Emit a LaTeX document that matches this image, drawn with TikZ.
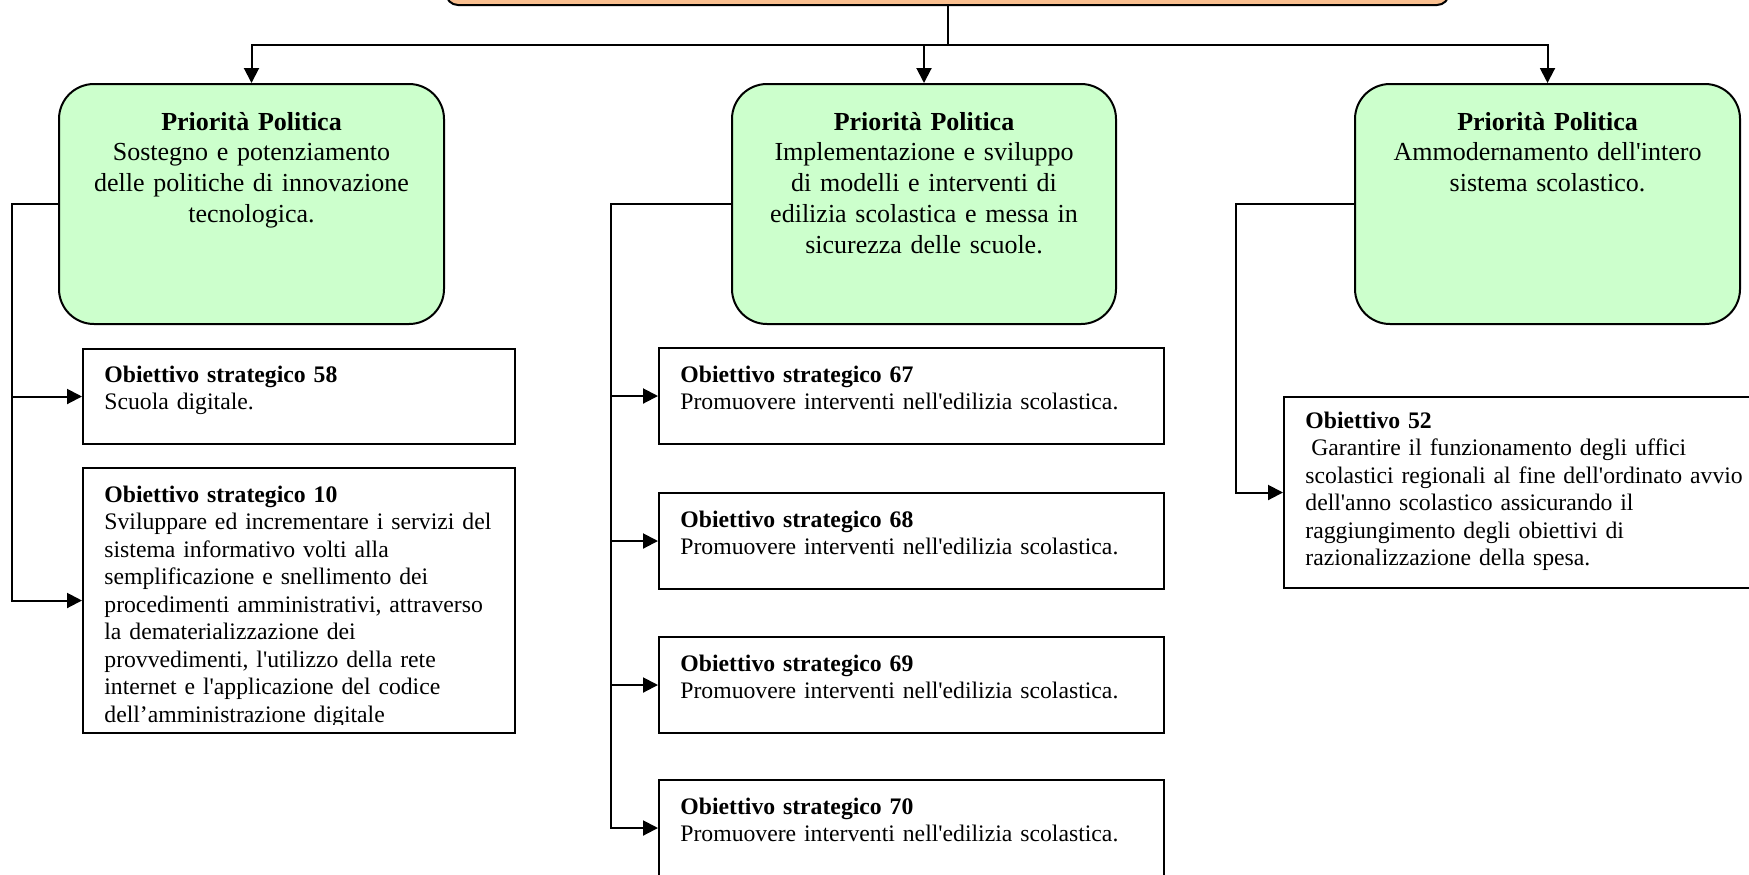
\documentclass[tikz,border=0pt]{standalone}
\usepackage{fontspec}
\setmainfont{Liberation Serif}[Ligatures=TeXOff]
\usetikzlibrary{arrows.meta,fit}
\definecolor{greenfill}{HTML}{CCFFCC}
\definecolor{orangefill}{HTML}{FABF8F}
\tikzset{
  pxbox/.style={draw, line width=1pt, inner sep=0pt},
  greenbox/.style={pxbox, fill=greenfill, rounded corners=17.5pt},
  objbox/.style={pxbox, fill=white},
  topbox/.style={pxbox, fill=orangefill, rounded corners=6pt},
  gtext/.style={align=center, text width=190pt, inner sep=0pt, anchor=base,
    font=\fontsize{13}{15.4}\selectfont},
  otext/.style={align=left, text width=240pt, inner sep=0pt, anchor=base west,
    font=\fontsize{11.85}{13.75}\selectfont},
  link/.style={line width=1pt},
  arr/.style={link, -{Triangle[length=7.5pt,width=7.5pt]}},
}
\begin{document}
\begin{tikzpicture}[x=0.5pt,y=-0.5pt]
\useasboundingbox (0,0) rectangle (1749,874);
\clip (0,0) rectangle (1749,874);

% top-level box, mostly above the visible area
\node[topbox, fit={(446,-80) (1449,5)}] (top) {};

% political priorities
\node[greenbox, fit={(59,84) (444,324)}] (p1) {};
\node[greenbox, fit={(732,84) (1116,324)}] (p2) {};
\node[greenbox, fit={(1355,84) (1740,324)}] (p3) {};

\node[gtext] (p1t) at (251.5,130) {\textbf{Priorità Politica}\\Sostegno e potenziamento\\delle politiche di innovazione\\tecnologica.};
\node[gtext] (p2t) at (924,130) {\textbf{Priorità Politica}\\Implementazione e sviluppo\\di modelli e interventi di\\edilizia scolastica e messa in\\sicurezza delle scuole.};
\node[gtext] (p3t) at (1547.5,130) {\textbf{Priorità Politica}\\Ammodernamento dell'intero\\sistema scolastico.};

% strategic objectives
\node[objbox, fit={(83,349) (515,444)}] (o58) {};
\node[objbox, fit={(83,468) (515,733)}] (o10) {};
\node[objbox, fit={(659,348) (1164,444)}] (o67) {};
\node[objbox, fit={(659,493) (1164,589)}] (o68) {};
\node[objbox, fit={(659,637) (1164,733)}] (o69) {};
\node[objbox, fit={(659,780) (1164,876)}] (o70) {};
\node[objbox, fit={(1284,397) (1800,588)}] (o52) {};

\node[otext] (o58t) at (104,382) {\textbf{Obiettivo strategico 58}\\Scuola digitale.};
\begin{scope}
  \clip (83,468) rectangle (515,724);
  \node[otext] (o10t) at (104,502) {\textbf{Obiettivo strategico 10}\\Sviluppare ed incrementare i servizi del\\sistema informativo volti alla\\semplificazione e snellimento dei\\procedimenti amministrativi, attraverso\\la dematerializzazione dei\\provvedimenti, l'utilizzo della rete\\internet e l'applicazione del codice\\dell’amministrazione digitale};
\end{scope}
\node[otext] (o67t) at (680,382) {\textbf{Obiettivo strategico 67}\\Promuovere interventi nell'edilizia scolastica.};
\node[otext] (o68t) at (680,527) {\textbf{Obiettivo strategico 68}\\Promuovere interventi nell'edilizia scolastica.};
\node[otext] (o69t) at (680,671) {\textbf{Obiettivo strategico 69}\\Promuovere interventi nell'edilizia scolastica.};
\node[otext] (o70t) at (680,814) {\textbf{Obiettivo strategico 70}\\Promuovere interventi nell'edilizia scolastica.};
\node[otext] (o52t) at (1305,428) {\textbf{Obiettivo 52}\\\hspace*{0.25em}Garantire il funzionamento degli uffici\\scolastici regionali al fine dell'ordinato avvio\\dell'anno scolastico assicurando il\\raggiungimento degli obiettivi di\\razionalizzazione della spesa.};

% connectors from the top box
\coordinate (bus) at (top.south |- 0,45);
\draw[link] (top.south) -- (bus);
\draw[arr] (bus) -| (p1.north);
\draw[arr] (bus) -| (p2.north);
\draw[arr] (bus) -| (p3.north);

% connectors to the objectives
\coordinate (l1) at (11.5,204);
\draw[arr] (p1.west) -- (l1) |- (o10.west);
\draw[arr] (l1) |- (o58.west);

\coordinate (l2) at (611,204);
\draw[arr] (p2.west) -- (l2) |- (o70.west);
\draw[arr] (l2) |- (o67.west);
\draw[arr] (l2) |- (o68.west);
\draw[arr] (l2) |- (o69.west);

\coordinate (l3) at (1236,204);
\draw[arr] (p3.west) -- (l3) |- (o52.west);
\end{tikzpicture}
\end{document}
